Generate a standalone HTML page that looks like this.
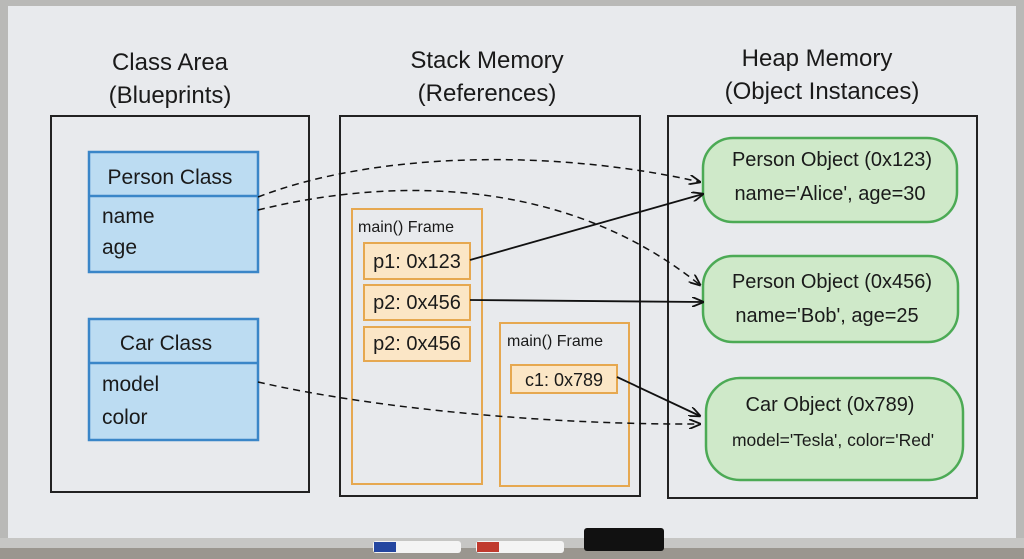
<!DOCTYPE html>
<html><head><style>
html,body{margin:0;padding:0;width:1024px;height:559px;overflow:hidden;background:#8a8580}
text{font-family:"Liberation Sans","DejaVu Sans",sans-serif;fill:#1a1a1a}
</style></head><body>
<svg width="1024" height="559" viewBox="0 0 1024 559" xmlns="http://www.w3.org/2000/svg">
<defs>
<marker id="ah" markerWidth="12" markerHeight="10" refX="11" refY="5" orient="auto" markerUnits="userSpaceOnUse">
<path d="M0,0 L12,5 L0,10" fill="none" stroke="#111" stroke-width="1.8"/></marker>
</defs>
<rect x="0" y="0" width="1024" height="559" fill="#b9b9b7"/>
<rect x="8" y="6" width="1008" height="532" fill="#e8eaed"/>
<rect x="0" y="538" width="1024" height="21" fill="#c6c6c4"/>
<rect x="0" y="548" width="1024" height="11" fill="#9a968f"/>
<rect x="373" y="541" width="88" height="12" rx="3" fill="#f4f4f4"/><rect x="374" y="542" width="22" height="10" fill="#2446a0"/>
<rect x="476" y="541" width="88" height="12" rx="3" fill="#f4f4f4"/><rect x="477" y="542" width="22" height="10" fill="#c03a2e"/>
<rect x="584" y="528" width="80" height="23" rx="3" fill="#111"/>

<g font-size="24" text-anchor="middle">
<text x="170" y="70">Class Area</text><text x="170" y="103">(Blueprints)</text>
<text x="487" y="68">Stack Memory</text><text x="487" y="101">(References)</text>
<text x="817" y="66">Heap Memory</text><text x="822" y="99">(Object Instances)</text>
</g>
<g fill="none" stroke="#222" stroke-width="2">
<rect x="51" y="116" width="258" height="376"/>
<rect x="340" y="116" width="300" height="380"/>
<rect x="668" y="116" width="309" height="382"/>
</g>

<g stroke="#3a86c8" stroke-width="2.5" fill="#bcdcf2">
<rect x="89" y="152" width="169" height="120"/><line x1="89" y1="196" x2="258" y2="196"/>
<rect x="89" y="319" width="169" height="121"/><line x1="89" y1="363" x2="258" y2="363"/>
</g>
<g font-size="21">
<text x="170" y="184" text-anchor="middle">Person Class</text>
<text x="102" y="223">name</text><text x="102" y="254">age</text>
<text x="166" y="350" text-anchor="middle">Car Class</text>
<text x="102" y="391">model</text><text x="102" y="424">color</text>
</g>

<g stroke="#e6a850" stroke-width="2" fill="#fbe6c6">
<rect x="352" y="209" width="130" height="275" fill="none"/>
<rect x="364" y="243" width="106" height="36"/>
<rect x="364" y="285" width="106" height="35"/>
<rect x="364" y="327" width="106" height="34"/>
<rect x="500" y="323" width="129" height="163" fill="none"/>
<rect x="511" y="365" width="106" height="28"/>
</g>
<g font-size="16"><text x="358" y="232">main() Frame</text><text x="507" y="346">main() Frame</text></g>
<g font-size="20" text-anchor="middle">
<text x="417" y="268">p1: 0x123</text><text x="417" y="309">p2: 0x456</text><text x="417" y="350">p2: 0x456</text>
<text x="564" y="386" font-size="18">c1: 0x789</text>
</g>

<g stroke="#4caa55" stroke-width="2.5" fill="#cfe9c9">
<rect x="703" y="138" width="254" height="84" rx="30"/>
<rect x="703" y="256" width="255" height="86" rx="30"/>
<rect x="706" y="378" width="257" height="102" rx="34"/>
</g>
<g font-size="20" text-anchor="middle">
<text x="832" y="166">Person Object (0x123)</text><text x="830" y="200">name='Alice', age=30</text>
<text x="832" y="288">Person Object (0x456)</text><text x="827" y="322">name='Bob', age=25</text>
<text x="830" y="411">Car Object (0x789)</text><text x="833" y="446" font-size="17.5">model='Tesla', color='Red'</text>
</g>

<g fill="none" stroke="#111" stroke-width="1.8">
<line x1="470" y1="260" x2="703" y2="194" marker-end="url(#ah)"/>
<line x1="470" y1="300" x2="703" y2="302" marker-end="url(#ah)"/>
<line x1="617" y1="377" x2="700" y2="416" marker-end="url(#ah)"/>
<g stroke-dasharray="7,5" stroke-width="1.5">
<path d="M258,197 C380,150 560,150 700,182" marker-end="url(#ah)"/>
<path d="M258,210 C400,175 570,180 700,285" marker-end="url(#ah)"/>
<path d="M258,382 C380,410 560,425 700,424" marker-end="url(#ah)"/>
</g>
</g>
</svg>
</body></html>
